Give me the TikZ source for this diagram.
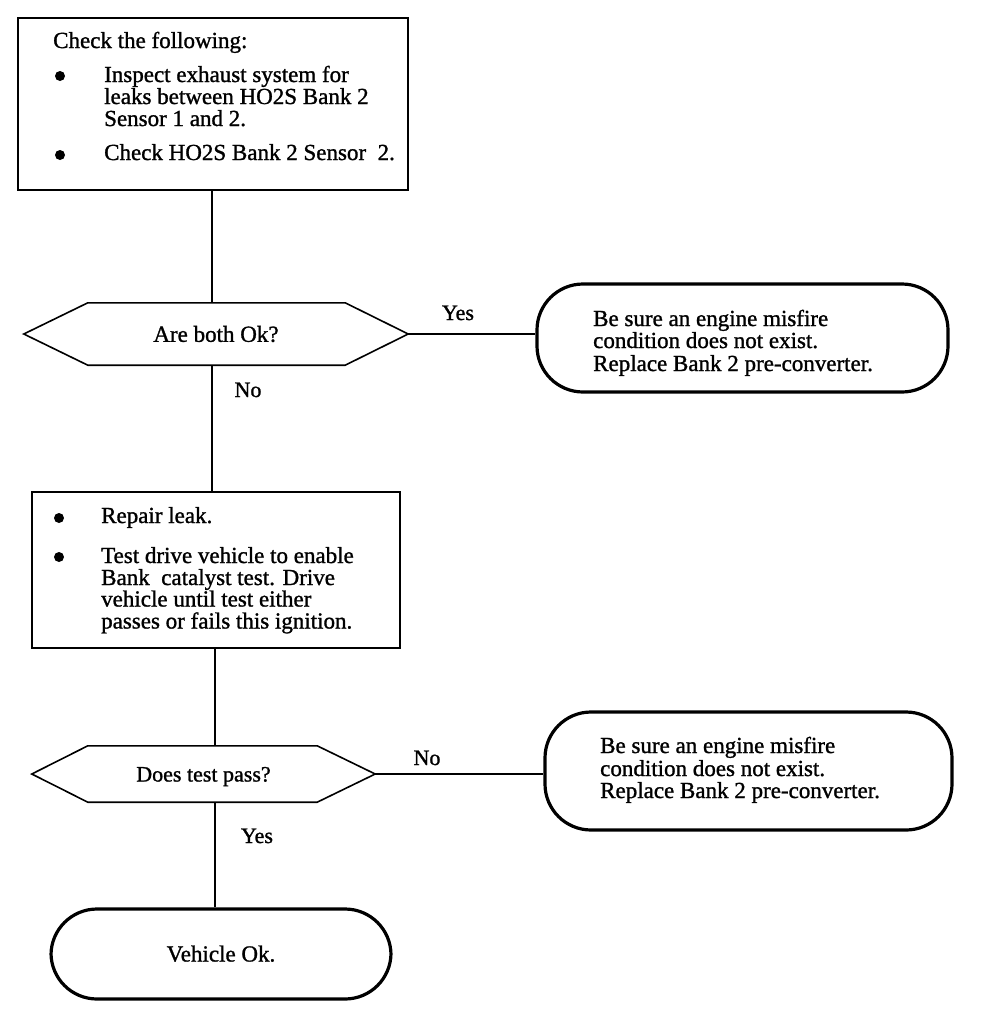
\documentclass[tikz,border=0pt]{standalone}
\usepackage{fontspec}
\setmainfont{Liberation Serif}[FakeBold=1.2]
\begin{document}
\begin{tikzpicture}[x=1pt,y=-1pt,
  box/.style={draw, line width=1.8pt, rectangle, inner sep=0},
  hexnode/.style={inner sep=0, font=\fontsize{23}{22}\selectfont},
  hexline/.style={line width=1.6pt, line join=miter},
  endbox/.style={draw, line width=3.2pt, rounded corners=46pt, inner sep=0},
  txt/.style={anchor=base west, inner sep=0, font=\fontsize{23}{22}\selectfont},
  lbl/.style={anchor=base, inner sep=0, font=\fontsize{22}{22}\selectfont},
  conn/.style={line width=1.5pt},
  bulletdot/.style={circle, fill, inner sep=0, minimum size=10pt}]
\useasboundingbox (0,0) rectangle (992,1020);

% spine coordinates
\coordinate (s1) at (212,0);
\coordinate (s2) at (215,0);

% box 1
\node[box, minimum width=390pt, minimum height=172pt] (b1) at (213,104) {};
\node[txt] (b1h) at (53,48) {Check the following:};
\node[bulletdot] (b1d1) at (60,76) {};
\node[txt] (b1l1) at (104,82) {Inspect exhaust system for};
\node[txt] (b1l2) at (104,104) {leaks between HO2S Bank 2};
\node[txt] (b1l3) at (104,126) {Sensor 1 and 2.};
\node[bulletdot] (b1d2) at (60,155) {};
\node[txt] (b1l4) at (104,160) {Check HO2S Bank 2 Sensor\ \ 2.};

% decision 1
\node[hexnode, minimum width=384pt, minimum height=62pt] (h1) at (216,334) {Are both Ok?};
\draw[hexline] (h1.west) -- ([xshift=64pt]h1.north west) -- ([xshift=-63pt]h1.north east)
  -- (h1.east) -- ([xshift=-63pt]h1.south east) -- ([xshift=64pt]h1.south west) -- cycle;

% result 1
\node[endbox, minimum width=411pt, minimum height=108pt] (r1) at (742.5,338) {};
\node[txt] (r1l1) at (593,326) {Be sure an engine misfire};
\node[txt] (r1l2) at (593,348) {condition does not exist.};
\node[txt] (r1l3) at (593,371) {Replace Bank 2 pre-converter.};

% box 2
\node[box, minimum width=368pt, minimum height=156pt] (b2) at (216,570) {};
\node[bulletdot] (b2d1) at (59,518) {};
\node[txt] (b2l1) at (101,523) {Repair leak.};
\node[bulletdot] (b2d2) at (59,557) {};
\node[txt] (b2l2) at (101,563) {Test drive vehicle to enable};
\node[txt] (b2l3) at (101,585) {Bank\ \ catalyst test. Drive};
\node[txt] (b2l4) at (101,606.5) {vehicle until test either};
\node[txt] (b2l5) at (101,628.5) {passes or fails this ignition.};

% decision 2
\node[hexnode, minimum width=343pt, minimum height=56pt, text height=15pt, text depth=0pt, font=\fontsize{22}{22}\selectfont] (h2) at (203.5,774) {Does test pass?};
\draw[hexline] (h2.west) -- ([xshift=56pt]h2.north west) -- ([xshift=-58pt]h2.north east)
  -- (h2.east) -- ([xshift=-58pt]h2.south east) -- ([xshift=56pt]h2.south west) -- cycle;

% result 2
\node[endbox, minimum width=407pt, minimum height=118pt] (r2) at (748.5,771) {};
\node[txt] (r2l1) at (600,753) {Be sure an engine misfire};
\node[txt] (r2l2) at (600,776) {condition does not exist.};
\node[txt] (r2l3) at (600,798) {Replace Bank 2 pre-converter.};

% final
\node[endbox, minimum width=340pt, minimum height=90pt, text height=15pt, text depth=0pt, font=\fontsize{23}{22}\selectfont] (r3) at (221,954) {Vehicle Ok.};

% connectors
\draw[conn] (b1.south -| s1) -- (h1.north -| s1);
\draw[conn] (h1.south -| s1) -- (b2.north -| s1);
\draw[conn] (b2.south -| s2) -- (h2.north -| s2);
\draw[conn] (h2.south -| s2) -- (r3.north -| s2);
\draw[conn] (h1.east) -- (h1.east -| r1.west);
\draw[conn] (h2.east) -- (h2.east -| r2.west);

% labels
\node[lbl] (yes1) at (458,320) {Yes};
\node[lbl] (no1) at (248,397) {No};
\node[lbl] (no2) at (427,765) {No};
\node[lbl] (yes2) at (257,843) {Yes};
\end{tikzpicture}
\end{document}
